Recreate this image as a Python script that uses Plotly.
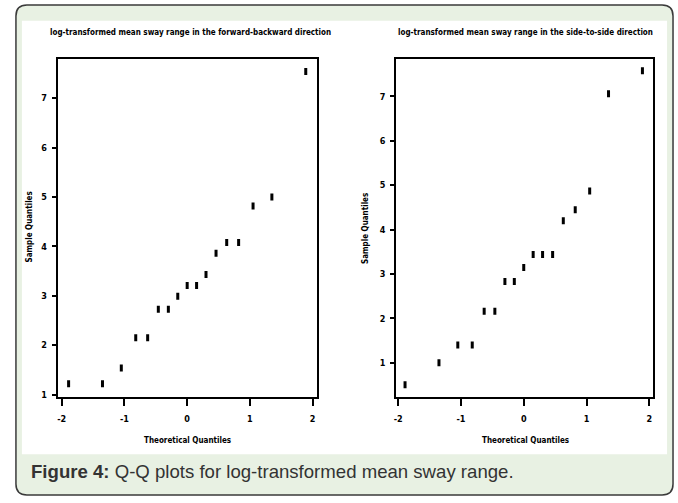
import plotly.graph_objects as go

W, H = 678, 503

# ---- data ----
left_theoretical = [-1.89, -1.35, -1.05, -0.82, -0.63, -0.46, -0.30, -0.15, 0.0,
                    0.15, 0.30, 0.46, 0.63, 0.82, 1.05, 1.35, 1.89]
left_sample = [1.22, 1.22, 1.54, 2.15, 2.15, 2.73, 2.73, 2.99, 3.21,
               3.21, 3.43, 3.86, 4.08, 4.08, 4.82, 5.00, 7.54]

right_theoretical = [-1.89, -1.35, -1.05, -0.82, -0.63, -0.46, -0.30, -0.15, 0.0,
                     0.15, 0.30, 0.46, 0.63, 0.82, 1.05, 1.35, 1.89]
right_sample = [0.51, 1.00, 1.40, 1.40, 2.16, 2.16, 2.83, 2.83, 3.15,
                3.44, 3.44, 3.44, 4.20, 4.45, 4.87, 7.06, 7.58]

x_ticks = [-2, -1, 0, 1, 2]
x_tick_labels = ["-2", "-1", "0", "1", "2"]
y_ticks = [1, 2, 3, 4, 5, 6, 7]
y_tick_labels = ["1", "2", "3", "4", "5", "6", "7"]

left_title = "log-transformed mean sway range in the forward-backward direction"
right_title = "log-transformed mean sway range in the side-to-side direction"
x_title = "Theoretical Quantiles"
y_title = "Sample Quantiles"
caption = "<b>Figure 4:</b> Q-Q plots for log-transformed mean sway range."

GREEN = "#e8f1e3"


def px(x):
    return x / W


def py(y):
    return 1 - y / H


fig = go.Figure()

marker = dict(symbol="line-ns", size=5, color="black",
              line=dict(width=3, color="black"))

fig.add_trace(go.Scatter(x=left_theoretical, y=left_sample, mode="markers",
                         marker=marker, xaxis="x", yaxis="y", showlegend=False))
fig.add_trace(go.Scatter(x=right_theoretical, y=right_sample, mode="markers",
                         marker=marker, xaxis="x2", yaxis="y2", showlegend=False))

tickfont = dict(family="DejaVu Sans Condensed", size=9, color="black", weight="bold")
common_x = dict(tickvals=x_ticks, ticktext=x_tick_labels, ticks="outside", ticklen=7,
                tickwidth=2, tickcolor="black", showline=True, mirror=True,
                linewidth=2, linecolor="black", showgrid=False, zeroline=False,
                tickfont=tickfont, ticklabelstandoff=6, fixedrange=True)
common_y = dict(tickvals=y_ticks, ticktext=y_tick_labels, ticks="outside", ticklen=4,
                tickwidth=2, tickcolor="black", showline=True, mirror=True,
                linewidth=2, linecolor="black", showgrid=False, zeroline=False,
                tickfont=tickfont, ticklabelstandoff=3, fixedrange=True)


def rounded_rect(x0, y0, x1, y1, r):
    X0, X1 = px(x0), px(x1)
    Y0, Y1 = py(y0), py(y1)
    rx, ry = r / W, r / H
    return (f"M {X0+rx},{Y0} L {X1-rx},{Y0} Q {X1},{Y0} {X1},{Y0-ry} "
            f"L {X1},{Y1+ry} Q {X1},{Y1} {X1-rx},{Y1} "
            f"L {X0+rx},{Y1} Q {X0},{Y1} {X0},{Y1+ry} "
            f"L {X0},{Y0-ry} Q {X0},{Y0} {X0+rx},{Y0} Z")


shapes = [
    dict(type="path", xref="paper", yref="paper", path=rounded_rect(13, 5, 673, 498, 11),
         fillcolor=GREEN, line=dict(color="#3a3a3a", width=1.5), layer="below"),
    dict(type="rect", xref="paper", yref="paper", x0=px(19), x1=px(667),
         y0=py(457), y1=py(21), fillcolor="white", line=dict(width=0), layer="below"),
]

tfont = dict(family="DejaVu Sans Condensed", size=8, color="black", weight="bold")
annotations = [
    dict(text=left_title, x=px(188), y=py(33), xref="paper", yref="paper",
         showarrow=False, font=tfont, xanchor="center", yanchor="middle"),
    dict(text=right_title, x=px(525), y=py(33), xref="paper", yref="paper",
         showarrow=False, font=tfont, xanchor="center", yanchor="middle"),
    dict(text=x_title, x=px(185), y=py(443), xref="paper", yref="paper",
         showarrow=False, font=tfont, xanchor="center", yanchor="middle"),
    dict(text=x_title, x=px(525), y=py(443), xref="paper", yref="paper",
         showarrow=False, font=tfont, xanchor="center", yanchor="middle"),
    dict(text=y_title, x=px(27), y=py(228), xref="paper", yref="paper", textangle=-90,
         showarrow=False, font=tfont, xanchor="center", yanchor="middle"),
    dict(text=y_title, x=px(364), y=py(230), xref="paper", yref="paper", textangle=-90,
         showarrow=False, font=tfont, xanchor="center", yanchor="middle"),
    dict(text=caption, x=px(26), y=py(474), xref="paper", yref="paper",
         showarrow=False, font=dict(family="Liberation Sans", size=18.6, color="#333333"),
         xanchor="left", yanchor="middle"),
]

fig.update_layout(
    width=W, height=H,
    margin=dict(l=0, r=0, t=0, b=0),
    paper_bgcolor="white", plot_bgcolor="white",
    xaxis=dict(domain=[px(55), px(315)], range=[-2.063, 2.063], anchor="y", **common_x),
    yaxis=dict(domain=[py(399), py(59)], range=[0.96, 7.80], anchor="x", **common_y),
    xaxis2=dict(domain=[px(395), px(653)], range=[-2.03, 2.06], anchor="y2", **common_x),
    yaxis2=dict(domain=[py(399), py(59)], range=[0.24, 7.85], anchor="x2", **common_y),
    shapes=shapes,
    annotations=annotations,
)

fig.write_html("out.html")
